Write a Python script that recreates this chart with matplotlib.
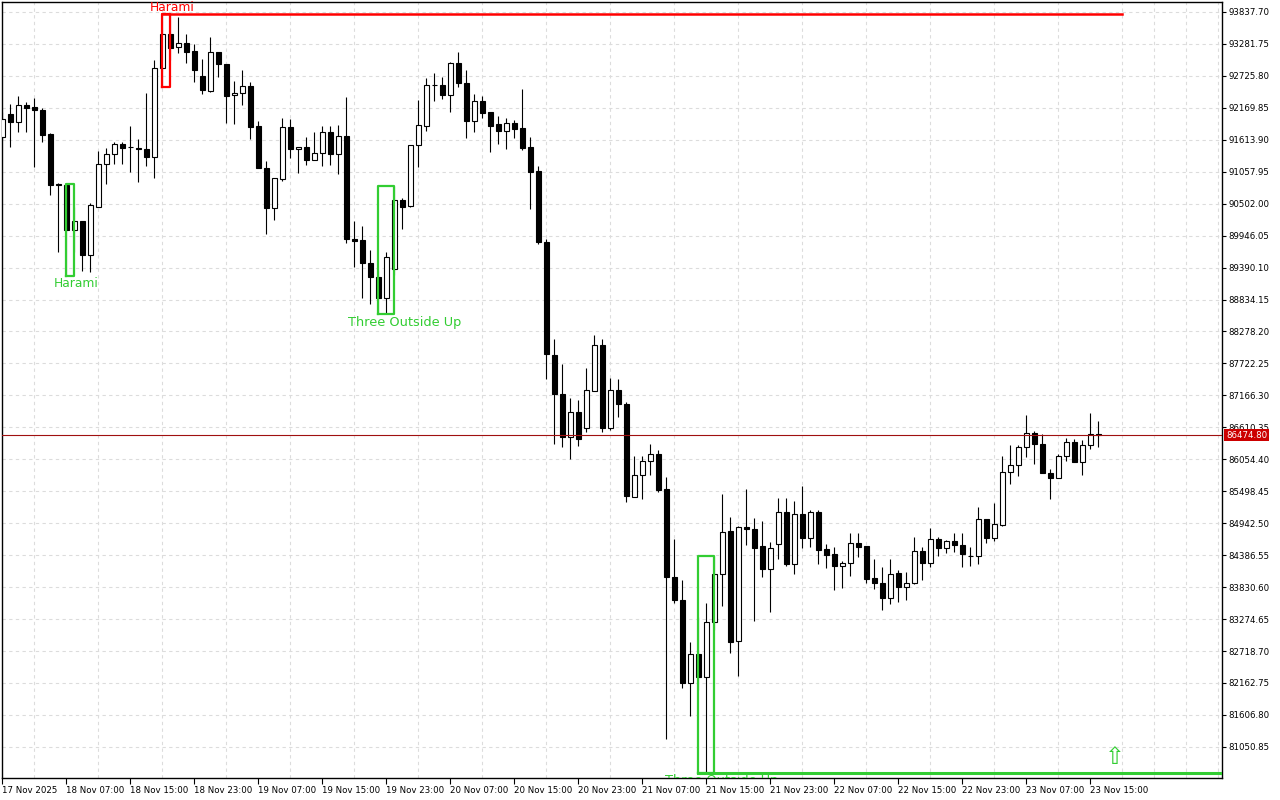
import matplotlib
matplotlib.use('Agg')
import matplotlib.pyplot as plt
import matplotlib.transforms as mtransforms
import pandas as pd

# hourly BTCUSD candles, 17 Nov 23:00 -> 23 Nov 16:00
opens = [
    91662, 92062, 91923, 92219, 92184, 92132, 91714, 90850, 90827, 90044,
    90201, 89609, 90444, 91192, 91366, 91540, 91480, 91471, 91453, 91314,
    92863, 93454, 93228, 93298, 93159, 92724, 92463, 93141, 92932, 92393,
    92428, 92550, 91854, 91123, 90427, 90931, 91836, 91453, 91488, 91262,
    91384, 91749, 91366, 91680, 89887, 89870, 89470, 89226, 88861, 89365,
    90566, 90462, 91523, 91854, 92560, 92567, 92393, 92950, 92602, 91941,
    92289, 92097, 91888, 91767, 91906, 91819, 91488, 91071, 89835, 87869,
    87190, 86442, 86877, 86599, 87243, 88043, 86599, 87260, 87016, 85398,
    85781, 86025, 86146, 85537, 84006, 83606, 82162, 82666, 82266, 83223,
    84058, 84807, 82893, 84876, 84841, 84546, 84145, 84580, 85137, 84232,
    85102, 84685, 85137, 84493, 84406, 84198, 84250, 84598, 84546, 83989,
    83902, 83641, 84076, 83832, 83902, 84459, 84250, 84667, 84511, 84633,
    84563, 84372, 84372, 85015, 84685, 84911, 85833, 85955, 86268, 86512,
    86320, 85816, 85729, 86112, 86355, 86007, 86303, 86494]
highs = [
    92097, 92236, 92376, 92271, 92341, 92167, 91732, 90860, 90844, 90444,
    90201, 90514, 91419, 91471, 91575, 91575, 91854, 91627, 92428, 93002,
    93802, 93802, 93750, 93454, 93280, 93019, 93402, 93141, 92932, 92637,
    92828, 92619, 91941, 91245, 90949, 91993, 91975, 91488, 91662, 91749,
    91854, 91854, 91871, 92358, 90201, 90114, 89696, 89348, 89661, 90810,
    90601, 91523, 92306, 92689, 92776, 92706, 92967, 93141, 92828, 92410,
    92376, 92097, 92028, 91993, 91958, 92497, 91662, 91158, 89887, 88147,
    87712, 87121, 87086, 87643, 88217, 88147, 87469, 87451, 87051, 86112,
    86112, 86320, 86216, 85746, 84667, 83954, 82875, 83310, 83554, 84372,
    85450, 85050, 84894, 85537, 85033, 84981, 84615, 85381, 85381, 85329,
    85590, 85172, 85172, 84580, 84528, 84285, 84772, 84772, 84546, 84319,
    84180, 84319, 84128, 84093, 84702, 84528, 84859, 84702, 84650, 84772,
    84772, 84528, 85224, 85015, 85294, 86112, 86303, 86303, 86825, 86547,
    86494, 85885, 86146, 86425, 86407, 86390, 86860, 86721]
lows = [
    91610, 91488, 91749, 91749, 91140, 91575, 90653, 89661, 89244, 89661,
    89331, 89313, 90444, 90844, 91192, 91192, 91053, 90879, 91158, 90949,
    92532, 93002, 93124, 92950, 92619, 92410, 92445, 92706, 91906, 91888,
    92219, 91627, 91123, 89974, 90218, 90897, 91297, 91036, 91175, 91262,
    91158, 91175, 91018, 89818, 89400, 88861, 88756, 88582, 88582, 89261,
    90061, 90444, 91140, 91767, 92289, 92323, 92097, 92532, 91645, 91749,
    91993, 91401, 91540, 91453, 91645, 91436, 90409, 89800, 87451, 86320,
    86268, 86059, 86286, 86529, 87243, 86529, 86564, 86790, 85311, 85398,
    85363, 85781, 85485, 81187, 83554, 82075, 81588, 82040, 80596, 83084,
    83502, 82684, 82284, 84563, 83241, 84006, 83397, 84319, 84198, 84058,
    84511, 84528, 84232, 84163, 83780, 83815, 84024, 84354, 83902, 83797,
    83432, 83536, 83571, 83606, 83884, 83954, 84180, 84372, 84424, 84441,
    84180, 84198, 84232, 84598, 84633, 84894, 85624, 85764, 86094, 85972,
    85816, 85363, 85729, 86025, 86007, 85781, 86233, 86268]
closes = [
    91975, 91923, 92219, 92167, 92132, 91697, 90827, 90827, 90044, 90201,
    89609, 90479, 91192, 91366, 91540, 91471, 91488, 91453, 91314, 92863,
    93454, 93211, 93298, 93141, 92828, 92480, 93141, 92932, 92376, 92428,
    92550, 91836, 91123, 90427, 90949, 91836, 91453, 91488, 91262, 91384,
    91749, 91366, 91680, 89887, 89853, 89470, 89226, 88861, 89574, 90566,
    90444, 91523, 91871, 92567, 92567, 92393, 92950, 92602, 91941, 92289,
    92080, 91854, 91767, 91906, 91801, 91471, 91053, 89835, 87886, 87190,
    86442, 86877, 86407, 87260, 88043, 86599, 87260, 87016, 85416, 85781,
    86025, 86146, 85520, 84006, 83606, 82162, 82666, 82266, 83223, 84058,
    84789, 82875, 84876, 84841, 84511, 84145, 84511, 85137, 84232, 85102,
    84685, 85137, 84476, 84389, 84198, 84250, 84598, 84528, 83971, 83902,
    83641, 84058, 83832, 83902, 84459, 84250, 84667, 84511, 84633, 84563,
    84406, 84380, 85015, 84685, 84928, 85833, 85955, 86268, 86512, 86320,
    85816, 85729, 86112, 86355, 86007, 86303, 86494, 86474.80]

times = pd.date_range('2025-11-17 23:00', periods=len(opens), freq='h')

price_ticks = [93837.70, 93281.75, 92725.80, 92169.85, 91613.90, 91057.95,
               90502.00, 89946.05, 89390.10, 88834.15, 88278.20, 87722.25,
               87166.30, 86610.35, 86054.40, 85498.45, 84942.50, 84386.55,
               83830.60, 83274.65, 82718.70, 82162.75, 81606.80, 81050.85]
last_price = 86474.80

# candle patterns: (first bar, last bar, name, colour, label below?)
patterns = [
    (8, 9, 'Harami', '#32cd32', True),
    (20, 21, 'Harami', '#ff0000', False),
    (47, 49, 'Three Outside Up', '#32cd32', True),
    (87, 89, 'Three Outside Up', '#32cd32', True),
]
label_dx = [2, 2, 10, 7]  # px shift of the label text
label_size = [8.8, 8.8, 9.3, 9.3]
signal_bar = 139

fig = plt.figure(figsize=(12.8, 8), dpi=100)
ax = fig.add_axes([2 / 1280, 22 / 800, 1220 / 1280, 776 / 800])
ax.set_xlim(-0.04, 152.46)
ax.set_ylim(80509, 94011)

# grid
ax.set_xticks(range(0, 153, 4), minor=True)
ax.set_yticks(price_ticks)
ax.grid(True, which='minor', axis='x', color='#dcdcdc', ls=(0, (3, 3)), lw=0.8)
ax.grid(True, which='major', axis='y', color='#dcdcdc', ls=(0, (3, 3)), lw=0.8)
ax.set_axisbelow(True)

# candles
idx = list(range(len(opens)))
ax.vlines(idx, lows, highs, color='black', lw=0.8, zorder=2)
bottoms = [min(o, c) for o, c in zip(opens, closes)]
heights = [abs(c - o) for o, c in zip(opens, closes)]
fcs = ['white' if c >= o else 'black' for o, c in zip(opens, closes)]
ax.bar(idx, heights, bottom=bottoms, width=0.62, color=fcs,
       edgecolor='black', linewidth=0.8, zorder=3)

# current price line
ax.axhline(last_price, color='#a01010', lw=0.8, zorder=4)

# pattern boxes
for (a, b, name, col, below), dx, fs in zip(patterns, label_dx, label_size):
    top = max(highs[a:b + 1])
    bot = min(lows[a:b + 1])
    ax.plot([a, a, b, b, a], [bot, top, top, bot, bot], color=col, lw=1.6, zorder=5)
    if below:
        ax.annotate(name, (b, bot), xytext=(dx, -8), textcoords='offset pixels',
                    ha='center', va='center', color=col, fontsize=fs,
                    annotation_clip=False, clip_on=True, zorder=6)
    else:
        ax.annotate(name, (b, top), xytext=(dx, 7), textcoords='offset pixels',
                    ha='center', va='center', color=col, fontsize=fs,
                    annotation_clip=False, zorder=6)

# extended pattern levels
ax.plot([20, 140], [max(highs[20:22])] * 2, color='#ff0000', lw=1.8, zorder=5)
ax.plot([87, 152.46], [min(lows[87:90])] * 2, color='#32cd32', lw=2.2, zorder=5)
ax.text(signal_bar, 80874, '\u21e7', color='#32cd32', fontsize=17,
        ha='center', va='center', zorder=6)

# axes styling
for s in ax.spines.values():
    s.set_color('black')
    s.set_linewidth(1.0)
ax.yaxis.tick_right()
ax.set_yticklabels([f'{p:.2f}' for p in price_ticks])
ax.tick_params(axis='y', which='major', direction='out', length=3, width=0.8,
               labelsize=6.2, pad=1.5)
xt = list(range(0, len(opens), 8))
xl = ['17 Nov 2025' if i == 0 else times[i].strftime('%d %b %H:%M') for i in xt]
ax.set_xticks(xt)
ax.set_xticklabels(xl)
for lab in ax.get_xticklabels():
    lab.set_horizontalalignment('left')
ax.tick_params(axis='x', which='major', direction='out', length=4, width=0.8,
               labelsize=6.2, pad=2)
ax.tick_params(axis='x', which='minor', length=0)

# price tag
tr = mtransforms.blended_transform_factory(ax.transAxes, ax.transData)
ax.text(1 + 4 / 1220, last_price, f'{last_price:.2f}', transform=tr,
        color='white', fontsize=6.2, ha='left', va='center', zorder=10,
        bbox=dict(boxstyle='square,pad=0.2', fc='#cc0000', ec='none'),
        clip_on=False)

fig.savefig('out.png', dpi=100, facecolor='white')
